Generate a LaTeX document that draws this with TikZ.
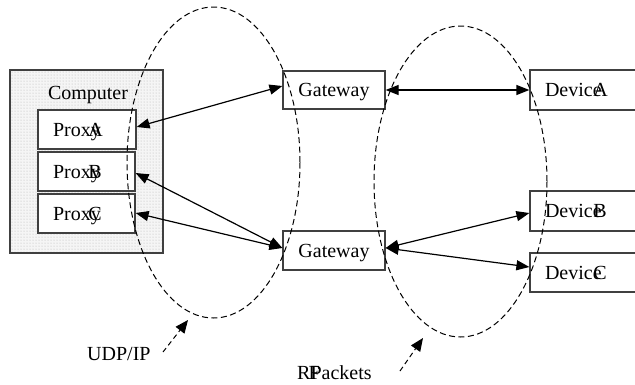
\documentclass[tikz,border=0pt]{standalone}
\usepackage{fontspec}
\setmainfont{Liberation Serif}
\usetikzlibrary{patterns,arrows.meta}
\begin{document}
\begin{tikzpicture}[x=1pt,y=-1pt,
  box/.style={draw=black!75, line width=1.2pt, fill=white, inner ysep=0pt,
    font=\fontsize{20}{24}\selectfont, text height=13pt, text depth=0pt},
  lbox/.style={box, inner xsep=15pt, align=left},
  lbl/.style={font=\fontsize{20}{24}\selectfont, inner sep=0pt},
  link/.style={line width=1.2pt, {Triangle[length=13pt,width=10pt]}-{Triangle[length=13pt,width=10pt]}},
  zone/.style={line width=1pt, dash pattern=on 6pt off 3.5pt},
  note/.style={line width=1pt, dash pattern=on 5pt off 3.5pt, -{Triangle[length=13pt,width=11pt]}},
]
\useasboundingbox (0,0) rectangle (635,384);
\clip (0,0) rectangle (635,384);

% computer
\node (comp) [draw=black!75, line width=1.2pt, preaction={fill=gray!8},
  pattern=dots, pattern color=gray!60, minimum width=153pt, minimum height=183pt,
  inner sep=0pt] at (86.5,161.5) {};
\node (comptext) [lbl, anchor=base] at (88,99) {Computer};

% proxies
\node (pa) [lbox, minimum width=98pt, minimum height=39pt, text width=68pt] at (87,129.5) {Prox\rlap{y}\kern-2.5pt A};
\node (pb) [lbox, minimum width=97pt, minimum height=39pt, text width=67pt] at (86.5,171.5) {Prox\rlap{y}\kern-2.5pt B};
\node (pc) [lbox, minimum width=97pt, minimum height=39pt, text width=67pt] at (86.5,213.5) {Prox\rlap{y}\kern-2.5pt C};

% gateways
\node (gwa) [box, minimum width=102pt, minimum height=38pt] at (334,90) {Gateway};
\node (gwb) [box, minimum width=102pt, minimum height=39pt] at (334,250.5) {Gateway};

% devices
\node (da) [lbox, minimum width=130pt, minimum height=40pt, text width=100pt] at (595,90) {Devic\rlap{e}\kern0.5pt A};
\node (db) [lbox, minimum width=130pt, minimum height=40pt, text width=100pt] at (595,211) {Devic\rlap{e}\kern0.5pt B};
\node (dc) [lbox, minimum width=130pt, minimum height=39pt, text width=100pt] at (595,272.5) {Devic\rlap{e}\kern0.5pt C};

% links
\draw[link] ([yshift=2.5pt]pa.east) -- ([yshift=4pt]gwa.west);
\draw[link] ([yshift=-1.5pt]pb.east) -- ([yshift=2.5pt]gwb.west);
\draw[link] ([yshift=0.5pt]pc.east) -- ([yshift=2.5pt]gwb.west);
\draw[link] (gwa.east) -- (da.west);
\draw[link] ([yshift=2.5pt]gwb.east) -- ([yshift=-2pt]db.west);
\draw[link] ([yshift=2.5pt]gwb.east) -- ([yshift=5.5pt]dc.west);

% zones
\draw[zone] (213.5,162.5) ellipse [x radius=86.5, y radius=155.5];
\draw[zone] (460.5,181.5) ellipse [x radius=86.5, y radius=155.5];

% notes
\node (udp) [lbl, anchor=base west] at (87,360) {UDP/IP};
\node (rf) [lbl, anchor=base west] at (297,379) {R\rlap{\kern-2pt F}Packets};
\coordinate (udpfrom) at (163,352);
\coordinate (udpto) at (188,320);
\coordinate (rffrom) at (400,371);
\coordinate (rfto) at (423,338);
\draw[note] (udpfrom) -- (udpto);
\draw[note] (rffrom) -- (rfto);
\end{tikzpicture}
\end{document}
